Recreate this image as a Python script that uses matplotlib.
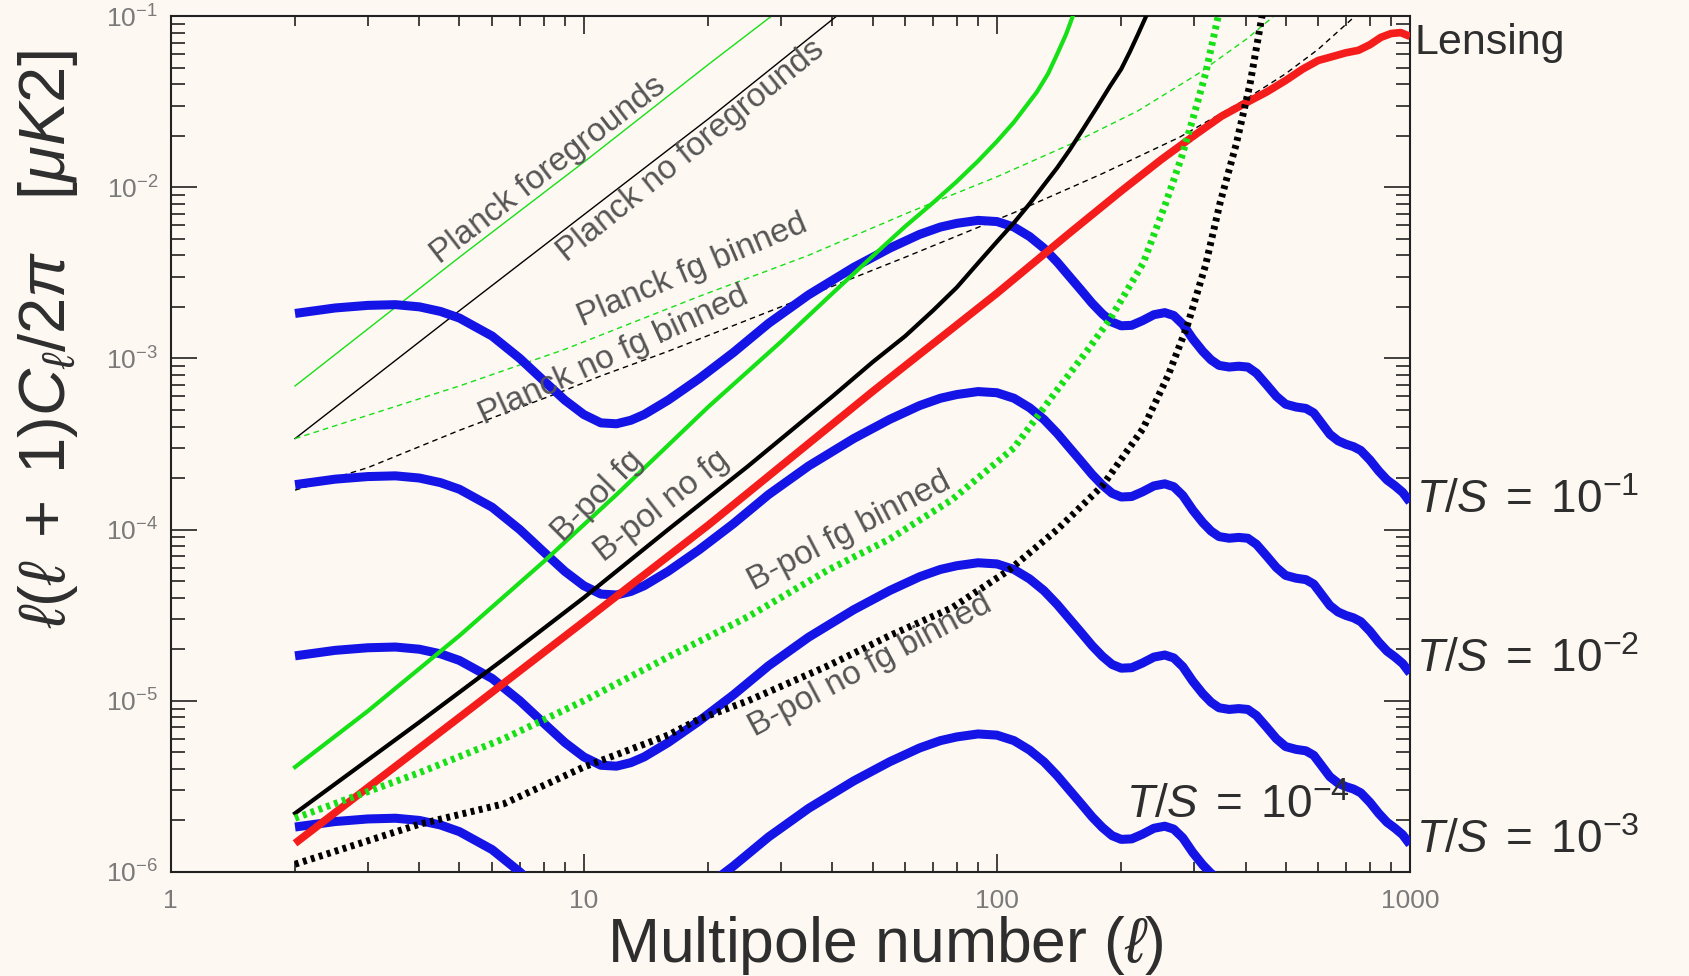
import numpy as np
import matplotlib.pyplot as plt
from matplotlib import transforms

plt.rcParams['font.family'] = ['Liberation Sans', 'DejaVu Sans']
plt.rcParams['mathtext.fontset'] = 'custom'
plt.rcParams['mathtext.rm'] = 'Liberation Sans'
plt.rcParams['mathtext.it'] = 'Liberation Sans:italic'
plt.rcParams['mathtext.bf'] = 'Liberation Sans:bold'
plt.rcParams['mathtext.sf'] = 'Liberation Sans'

# Tensor B-mode spectrum for T/S = 0.1; the other T/S curves scale linearly with the ratio
bb_ell = [2, 2.5, 3, 3.5, 4, 4.5, 5, 6, 7, 8, 9, 10, 11, 12, 13, 14, 16, 19, 23, 28,
          35, 45, 55, 65, 73, 80, 90, 100, 110, 120, 130, 140, 150, 160, 170, 180,
          190, 200, 212, 225, 240, 255, 268, 282, 298, 315, 330, 345, 365, 385, 405,
          425, 450, 475, 500, 530, 560, 585, 610, 640, 670, 700, 730, 760, 800, 840,
          880, 920, 960, 1000]
bb_r01 = [1.83e-3, 1.97e-3, 2.04e-3, 2.06e-3, 2.0e-3, 1.88e-3, 1.72e-3, 1.35e-3,
          1.0e-3, 7.4e-4, 5.7e-4, 4.7e-4, 4.2e-4, 4.15e-4, 4.35e-4, 4.7e-4, 5.7e-4,
          7.6e-4, 1.08e-3, 1.6e-3, 2.35e-3, 3.4e-3, 4.4e-3, 5.3e-3, 5.85e-3, 6.15e-3,
          6.4e-3, 6.3e-3, 5.85e-3, 5.15e-3, 4.4e-3, 3.65e-3, 3.0e-3, 2.5e-3, 2.1e-3,
          1.82e-3, 1.63e-3, 1.55e-3, 1.56e-3, 1.66e-3, 1.8e-3, 1.85e-3, 1.78e-3,
          1.58e-3, 1.3e-3, 1.1e-3, 9.8e-4, 9.1e-4, 8.9e-4, 9.0e-4, 8.9e-4, 8.2e-4,
          7.0e-4, 6.0e-4, 5.4e-4, 5.2e-4, 5.1e-4, 4.8e-4, 4.2e-4, 3.6e-4, 3.3e-4,
          3.15e-4, 3.05e-4, 2.9e-4, 2.55e-4, 2.2e-4, 1.95e-4, 1.8e-4, 1.65e-4, 1.45e-4]
ts_ratios = [1e-1, 1e-2, 1e-3, 1e-4]
ts_labels = [r'$T/S\;=\;10^{-1}$', r'$T/S\;=\;10^{-2}$', r'$T/S\;=\;10^{-3}$',
             r'$T/S\;=\;10^{-4}$']

# Lensing B-modes
lens_ell = [2, 5, 10, 20, 50, 100, 150, 200, 250, 300, 350, 400, 450, 500, 550,
            600, 650, 700, 750, 800, 850, 900, 950, 1000]
lens_cl = [1.47e-6, 8.0e-6, 2.9e-5, 1.06e-4, 6.4e-4, 2.4e-3, 5.4e-3, 9.5e-3, 1.45e-2,
           2.0e-2, 2.6e-2, 3.1e-2, 3.6e-2, 4.2e-2, 4.9e-2, 5.5e-2, 5.8e-2, 6.1e-2,
           6.3e-2, 6.8e-2, 7.5e-2, 7.9e-2, 8.0e-2, 7.6e-2]

# Noise curves: B-pol experiment
bpol_fg_ell = [2, 3, 5, 8, 12, 20, 30, 40, 50, 60, 70, 80, 90, 100, 110, 118, 125,
               133, 140, 147, 155]
bpol_fg = [4.1e-6, 8.7e-6, 2.4e-5, 6.5e-5, 1.6e-4, 5.2e-4, 1.25e-3, 2.4e-3, 3.95e-3,
           5.9e-3, 8.1e-3, 1.08e-2, 1.42e-2, 1.85e-2, 2.4e-2, 3.0e-2, 3.6e-2, 4.6e-2,
           6.0e-2, 7.8e-2, 1.1e-1]
bpol_nofg_ell = [2, 4, 6.4, 10, 16, 25, 40, 50, 60, 70, 80, 90, 100, 110, 120, 130,
                 140, 150, 160, 175, 188, 200, 210, 220, 232]
bpol_nofg = [2.2e-6, 7.5e-6, 1.75e-5, 4.0e-5, 1.0e-4, 2.35e-4, 6.0e-4, 9.5e-4, 1.35e-3,
             1.9e-3, 2.6e-3, 3.6e-3, 4.8e-3, 6.2e-3, 8.0e-3, 1.03e-2, 1.3e-2, 1.65e-2,
             2.1e-2, 2.95e-2, 3.9e-2, 4.9e-2, 6.2e-2, 7.9e-2, 1.05e-1]
bpol_fg_bin_ell = [2, 4, 6.4, 10, 16, 25, 39, 55, 78, 110, 139, 165, 188, 226, 256,
                   280, 298, 320, 345]
bpol_fg_bin = [2.06e-6, 3.8e-6, 6.0e-6, 1.0e-5, 1.8e-5, 3.1e-5, 5.8e-5, 8.8e-5, 1.5e-4,
               3.0e-4, 6.4e-4, 1.1e-3, 1.7e-3, 3.6e-3, 8.0e-3, 1.5e-2, 2.5e-2, 4.6e-2,
               1.05e-1]
bpol_nofg_bin_ell = [2, 4, 6.4, 10, 16, 19, 25, 39, 55, 78, 107, 140, 180, 226, 260,
                     289, 320, 347, 380, 410, 440]
bpol_nofg_bin = [1.11e-6, 1.9e-6, 2.5e-6, 4.1e-6, 6.3e-6, 7.8e-6, 1.0e-5, 1.6e-5,
                 2.4e-5, 3.5e-5, 5.8e-5, 1.0e-4, 1.8e-4, 3.9e-4, 8.0e-4, 1.55e-3,
                 3.5e-3, 8.1e-3, 1.8e-2, 4.0e-2, 1.05e-1]

# Noise curves: Planck
planck_fg_ell = [2, 5, 10, 20, 30]
planck_fg = [6.9e-4, 3.9e-3, 1.4e-2, 5.2e-2, 1.1e-1]
planck_nofg_ell = [2, 5, 10, 20, 42]
planck_nofg = [3.4e-4, 1.9e-3, 6.9e-3, 2.5e-2, 1.05e-1]
planck_fg_bin_ell = [2, 5, 9, 19, 35, 61, 100, 152, 220, 307, 404, 480]
planck_fg_bin = [3.4e-4, 6.9e-4, 1.13e-3, 2.3e-3, 4.0e-3, 7.1e-3, 1.15e-2, 1.8e-2,
                 2.8e-2, 4.6e-2, 7.4e-2, 1.05e-1]
planck_nofg_bin_ell = [2, 3, 5, 8.85, 11, 16, 30, 60, 110, 180, 277, 395, 500, 600,
                       720, 750]
planck_nofg_bin = [1.7e-4, 2.3e-4, 3.8e-4, 6.4e-4, 7.9e-4, 1.1e-3, 2.0e-3, 3.9e-3,
                   7.1e-3, 1.2e-2, 1.96e-2, 3.2e-2, 4.6e-2, 6.4e-2, 9.5e-2, 1.05e-1]

xtick_vals = [1, 10, 100, 1000]
xtick_labels = ['1', '10', '100', '1000']

bg = '#fdf8f2'
blue = '#1414e6'
green = '#16e016'
red = '#f51c1c'
note_color = '#555555'
text_dark = '#2e2e2e'

fig = plt.figure(figsize=(16.9, 9.76), dpi=100, facecolor=bg)
ax = fig.add_axes([0.1010, 0.1066, 0.7333, 0.8770])
ax.set_facecolor(bg)

# thin Planck noise curves
ax.plot(planck_fg_ell, planck_fg, color=green, lw=1.0, zorder=2)
ax.plot(planck_nofg_ell, planck_nofg, color='black', lw=1.0, zorder=2)
ax.plot(planck_fg_bin_ell, planck_fg_bin, color=green, lw=1.0,
        ls=(0, (4, 3)), zorder=2)
ax.plot(planck_nofg_bin_ell, planck_nofg_bin, color='black', lw=1.0,
        ls=(0, (4, 3)), zorder=2)

# primordial tensor B-modes
bb_r01 = np.array(bb_r01)
for r in ts_ratios:
    ax.plot(bb_ell, bb_r01 * r / 0.1, color=blue, lw=6.5,
            solid_capstyle='butt', solid_joinstyle='round', zorder=3)

# lensing
ax.plot(lens_ell, lens_cl, color=red, lw=5.5, solid_capstyle='butt', zorder=4)

# B-pol noise curves
ax.plot(bpol_fg_ell, bpol_fg, color=green, lw=3.0, zorder=5)
ax.plot(bpol_nofg_ell, bpol_nofg, color='black', lw=3.0, zorder=5)
ax.plot(bpol_fg_bin_ell, bpol_fg_bin, color=green, lw=5.0,
        ls=(0, (0.55, 0.65)), dash_capstyle='butt', zorder=6)
ax.plot(bpol_nofg_bin_ell, bpol_nofg_bin, color='black', lw=5.0,
        ls=(0, (0.55, 0.65)), dash_capstyle='butt', zorder=6)

ax.set_xscale('log')
ax.set_yscale('log')
ax.set_xlim(1, 1000)
ax.set_ylim(1e-6, 1e-1)
ax.set_xticks(xtick_vals)
ax.set_xticklabels(xtick_labels)

for side in ax.spines.values():
    side.set_linewidth(1.5)
    side.set_color('#222222')

ax.tick_params(which='both', direction='in', top=True, right=True,
               color='#222222', labelcolor='#7a7a7a', width=1.2)
ax.tick_params(axis='x', which='major', length=13, labelsize=19, pad=12)
ax.tick_params(axis='x', which='minor', length=7)
ax.tick_params(axis='y', which='major', length=19, labelsize=19, pad=9)
ax.tick_params(axis='y', which='minor', length=10)

ax.set_xlabel(r'Multipole number ($\ell$)', fontsize=45, color=text_dark,
              va='baseline')
ax.xaxis.set_label_coords(0.577, -0.105)
ax.set_ylabel(r'$\ell(\ell\;+\;1)C_\ell/2\pi\ \ \ [\mu K2]$', fontsize=47,
              color=text_dark, va='center')
ax.yaxis.set_label_coords(-0.099, 0.622)

# curve annotations along the noise lines
notes = [
    ('Planck foregrounds', 8.2, 1.26e-2, 37.6),
    ('Planck no foregrounds', 18.2, 1.63e-2, 39),
    ('Planck fg binned', 18.3, 3.24e-3, 23),
    ('Planck no fg binned', 11.8, 1.03e-3, 24.7),
    ('B-pol fg', 10.8, 1.57e-4, 45),
    ('B-pol no fg', 15.5, 1.37e-4, 38),
    ('B-pol fg binned', 43.9, 9.8e-5, 27.5),
    ('B-pol no fg binned', 49.3, 1.6e-5, 28),
]
for text, xl, yl, rot in notes:
    ax.text(xl, yl, text, rotation=rot, rotation_mode='anchor', ha='center',
            va='center', fontsize=24, color=note_color, zorder=7)

# labels at the right edge
edge = transforms.blended_transform_factory(ax.transAxes, ax.transData)
ts_label_y = [1.25e-4, 1.47e-5, 1.29e-6]
for lab, yl in zip(ts_labels[:3], ts_label_y):
    ax.text(1.005, yl, lab, transform=edge, ha='left', va='baseline',
            fontsize=33, color=text_dark, clip_on=False)
ax.text(205, 2.07e-6, ts_labels[3], ha='left', va='baseline', fontsize=33,
        color=text_dark, zorder=8)
ax.text(1.004, 6.0e-2, 'Lensing', transform=edge, ha='left', va='baseline',
        fontsize=31, color=text_dark, clip_on=False)

fig.savefig('out.png', dpi=100, facecolor=bg)
